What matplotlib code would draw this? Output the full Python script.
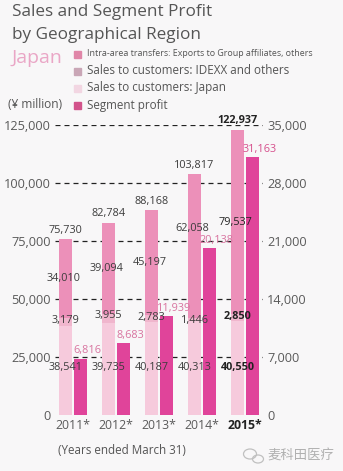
import numpy as np
import matplotlib
matplotlib.use("Agg")
import matplotlib.pyplot as plt
from matplotlib.patches import Ellipse

plt.rcParams['font.family'] = ['Open Sans', 'DejaVu Sans']

years = ['2011*', '2012*', '2013*', '2014*', '2015*']
japan = [38541, 39735, 40187, 40313, 40550]
idexx = [3179, 3955, 2783, 1446, 2850]
intra = [34010, 39094, 45197, 62058, 79537]
totals = [75730, 82784, 88168, 103817, 122937]
profit = [6816, 8683, 11939, 20138, 31163]

left_ticks = [0, 25000, 50000, 75000, 100000, 125000]
right_ticks = [0, 7000, 14000, 21000, 28000, 35000]

c_japan = '#f6cadc'
c_idexx = '#f0b6cd'
c_intra = '#ec90b9'
c_profit = '#e0449a'
c_text = '#3c3c3c'
c_plab = '#d8739f'
bg = '#f8f7f8'

fig = plt.figure(figsize=[3.43, 4.71], dpi=100, facecolor=bg)
ax = fig.add_axes([55 / 343, 1 - 415 / 471, 208 / 343, 290 / 471])
ax.set_facecolor(bg)
ax2 = ax.twinx()

x = np.arange(len(years))
w = 0.30
off = 0.17

for t in left_ticks[1:]:
    ax.axhline(t, color='#222222', lw=0.9, ls=(0, (4, 3.2)), zorder=0)

ax.bar(x - off, japan, w, color=c_japan, zorder=2)
ax.bar(x - off, idexx, w, bottom=japan, color=c_idexx, zorder=2)
ax.bar(x - off, intra, w, bottom=np.array(japan) + np.array(idexx), color=c_intra, zorder=2)
ax2.bar(x + off, profit, w, color=c_profit, zorder=2)

ax.set_xlim(-0.42, 4.42)
ax.set_ylim(0, 125000)
ax2.set_ylim(0, 35000)

for a in (ax, ax2):
    for s in a.spines.values():
        s.set_visible(False)
    a.tick_params(length=0, labelsize=9.2, labelcolor='#5a5a5a', pad=3)
ax.set_yticks(left_ticks)
ax.set_yticklabels(['{:,}'.format(v) for v in left_ticks])
ax2.set_yticks(right_ticks)
ax2.set_yticklabels(['{:,}'.format(v) for v in right_ticks])
ax.set_xticks(x)
ax.set_xticklabels(years)
ax.tick_params(axis='x', labelsize=8.8, pad=3)
ax.get_xticklabels()[-1].set_fontweight('bold')
ax.get_xticklabels()[-1].set_color('#222222')

fs = 7.8
td = ax.transData
for i in range(len(years)):
    wt = 'bold' if i == 4 else 'normal'
    col = '#222222' if i == 4 else c_text
    xs = x[i] - off
    ax2.annotate('{:,}'.format(totals[i]), (xs, totals[i]), xycoords=td, xytext=(0, 2.5),
                 textcoords='offset points', ha='center', va='bottom', fontsize=fs, color=col,
                 fontweight=wt, zorder=5)
    mid = japan[i] + idexx[i] + intra[i] / 2
    if i == 3:
        mid += 7500
    ax2.text(xs - 0.05, mid, '{:,}'.format(intra[i]), transform=td, ha='center', va='center',
             fontsize=fs, color=col, zorder=5)
    ax2.text(xs, japan[i] + idexx[i] - 1000, '{:,}'.format(idexx[i]), transform=td, ha='center',
             va='center', fontsize=fs, color=col, fontweight=wt, zorder=5)
    ax2.text(xs, 20500, '{:,}'.format(japan[i]), transform=td, ha='center', va='center',
             fontsize=fs, color=col, fontweight=wt, zorder=5)
    ax2.annotate('{:,}'.format(profit[i]), (x[i] + off + 0.17, profit[i]), xytext=(0, 1.5),
                 textcoords='offset points', ha='center', va='bottom', fontsize=fs,
                 color='#d64f8c' if i == 4 else c_plab, zorder=5)

# titles and legend
fig.text(12 / 343, 1 - 12 / 471, 'Sales and Segment Profit', fontsize=12.3, color='#555555', va='center')
fig.text(12 / 343, 1 - 35 / 471, 'by Geographical Region', fontsize=12.3, color='#555555', va='center')
fig.text(11 / 343, 1 - 58 / 471, 'Japan', fontsize=14, color='#eaa6c6', va='center')
fig.text(8 / 343, 1 - 104 / 471, '(¥ million)', fontsize=8.6, color='#555555', va='center')

leg_items = [
    ('Intra-area transfers: Exports to Group affiliates, others', '#e086a8', 6.4,
     ['Liberation Sans Narrow', 'DejaVu Sans Condensed', 'Open Sans']),
    ('Sales to customers: IDEXX and others', '#c9a6b6', 8.4, None),
    ('Sales to customers: Japan', '#f2d6e2', 8.4, None),
    ('Segment profit', '#d2538b', 8.4, None),
]
for k, (lab, col, size, fam) in enumerate(leg_items):
    yy = 1 - (54 + 17 * k) / 471
    fig.patches.append(plt.Rectangle((74 / 343, yy - 3.5 / 471), 7 / 343, 7 / 471,
                                     transform=fig.transFigure, color=col, figure=fig))
    kw = {'family': fam} if fam else {}
    fig.text(87 / 343, yy, lab, fontsize=size, color='#555555', va='center', **kw)

fig.text(58 / 343, 1 - 450 / 471, '(Years ended March 31)', fontsize=8.4, color='#555555', va='center')

# watermark
for (cx, cy, ew, eh) in [(250, 454, 13, 10), (258, 459, 11, 8)]:
    fig.patches.append(Ellipse((cx / 343, 1 - cy / 471), ew / 343, eh / 471, fill=False,
                               ec='#c0c0c0', lw=0.9, transform=fig.transFigure, figure=fig))
fig.text(267 / 343, 1 - 456 / 471, '麦科田医疗', fontsize=9.6, color='#b0b0b0', va='center',
         family=['Noto Sans CJK SC', 'DejaVu Sans'])

fig.savefig('out.png', dpi=100, facecolor=bg)
